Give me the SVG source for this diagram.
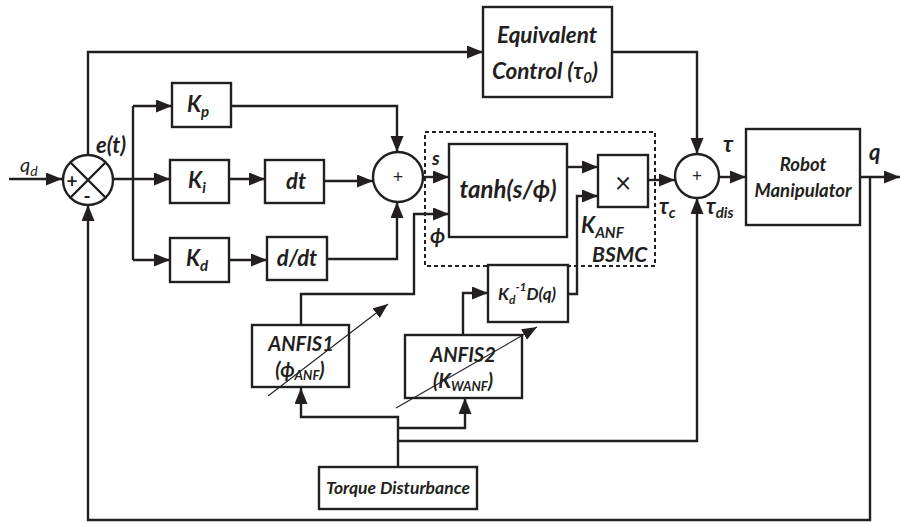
<svg xmlns="http://www.w3.org/2000/svg" width="901" height="524" viewBox="0 0 901 524">
<style>
  .ln{fill:none;stroke:#231f20;stroke-width:2.4}
  .thin{fill:none;stroke:#231f20;stroke-width:1.1}
  .box{fill:#fff;stroke:#231f20;stroke-width:2.4}
  .dash{fill:none;stroke:#231f20;stroke-width:2;stroke-dasharray:4 3}
  text{font-family:"Lato","Liberation Sans","DejaVu Sans",sans-serif;font-weight:bold;font-style:italic;fill:#231f20}
  .c{text-anchor:middle}
  .reg{font-weight:normal;font-style:normal}
</style>
<defs>
  <marker id="ah" markerUnits="userSpaceOnUse" markerWidth="17" markerHeight="14" refX="16" refY="6.5" orient="auto">
    <path d="M0,0 L16,6.5 L0,13 z" fill="#231f20"/>
  </marker>
  <marker id="ahs" markerUnits="userSpaceOnUse" markerWidth="16" markerHeight="14" refX="15" refY="6" orient="auto">
    <path d="M0,0 L15,6 L0,12 z" fill="#231f20"/>
  </marker>
</defs>
<rect width="901" height="524" fill="#fff"/>

<g id="connectors">
  <path class="ln" d="M9,179 H62" marker-end="url(#ah)"/>
  <path class="ln" d="M88,155 V52 H483" marker-end="url(#ah)"/>
  <path class="ln" d="M113,179 H170" marker-end="url(#ah)"/>
  <path class="ln" d="M133,106 V260"/>
  <path class="ln" d="M133,106 H172" marker-end="url(#ah)"/>
  <path class="ln" d="M133,260 H170" marker-end="url(#ah)"/>
  <path class="ln" d="M229,179 H265" marker-end="url(#ah)"/>
  <path class="ln" d="M229,260 H267" marker-end="url(#ah)"/>
  <path class="ln" d="M231,106 H397 V152" marker-end="url(#ah)"/>
  <path class="ln" d="M324,181 H373" marker-end="url(#ah)"/>
  <path class="ln" d="M327,259 H397 V202" marker-end="url(#ah)"/>
  <path class="ln" d="M423,177 H449" marker-end="url(#ah)"/>
  <path class="ln" d="M301,325 V294 H414 V214 H449" marker-end="url(#ah)"/>
  <path class="ln" d="M567,167 H598" marker-end="url(#ah)"/>
  <path class="ln" d="M463,335 V293 H488" marker-end="url(#ah)"/>
  <path class="ln" d="M568,294 H577 V196 H598" marker-end="url(#ah)"/>
  <path class="ln" d="M648,180 H675" marker-end="url(#ah)"/>
  <path class="ln" d="M612,52 H697 V154" marker-end="url(#ah)"/>
  <path class="ln" d="M719,177 H746" marker-end="url(#ah)"/>
  <path class="ln" d="M860,177 H900" marker-end="url(#ah)"/>
  <path class="ln" d="M870,177 V520 H88 V205" marker-end="url(#ah)"/>
  <path class="ln" d="M398,467 V417 H301 V388" marker-end="url(#ah)"/>
  <path class="ln" d="M398,428 H465 V398" marker-end="url(#ah)"/>
  <path class="ln" d="M398,441 H697 V198" marker-end="url(#ah)"/>
</g>

<g id="sum1">
  <circle class="box" cx="88" cy="180" r="25"/>
  <path class="ln" d="M70,162 L106,198 M106,162 L70,198"/>
  <text x="72" y="188" class="c" font-size="19" style="font-style:normal">+</text>
  <text x="87" y="203" class="c" font-size="19" style="font-style:normal">-</text>
</g>
<g id="sum2">
  <circle class="box" cx="398" cy="177" r="25"/>
  <text x="398" y="183" class="c reg" font-size="18">+</text>
</g>
<g id="sum3">
  <circle class="box" cx="697" cy="176" r="22"/>
  <text x="697" y="182" class="c reg" font-size="17">+</text>
</g>

<g id="bsmc">
  <rect class="dash" x="425" y="132" width="230" height="134"/>
  <text x="592" y="262" font-size="21">BSMC</text>
</g>

<g id="eqctrl">
  <rect class="box" x="483" y="7" width="129" height="90"/>
  <text x="547" y="43" class="c" font-size="22.5">Equivalent</text>
  <text x="545" y="79" class="c" font-size="22.5">Control (τ<tspan font-size="15" dy="4">0</tspan><tspan dy="-4">)</tspan></text>
</g>
<g id="kp">
  <rect class="box" x="172" y="83" width="59" height="44"/>
  <text x="198" y="112" class="c" font-size="22">K<tspan font-size="15" dy="5">p</tspan></text>
</g>
<g id="ki">
  <rect class="box" x="170" y="160" width="59" height="43"/>
  <text x="197" y="188" class="c" font-size="22">K<tspan font-size="15" dy="5">i</tspan></text>
</g>
<g id="kd">
  <rect class="box" x="170" y="238" width="59" height="44"/>
  <text x="197" y="266" class="c" font-size="22">K<tspan font-size="15" dy="5">d</tspan></text>
</g>
<g id="dt">
  <rect class="box" x="265" y="160" width="59" height="43"/>
  <text x="296" y="189" class="c" font-size="22">dt</text>
</g>
<g id="ddt">
  <rect class="box" x="267" y="237" width="60" height="43"/>
  <text x="297" y="266" class="c" font-size="22">d/dt</text>
</g>
<g id="tanh">
  <rect class="box" x="449" y="144" width="118" height="93"/>
  <text x="508" y="198" class="c" font-size="24">tanh(s/ϕ)</text>
</g>
<g id="mult">
  <rect class="box" x="598" y="155" width="50" height="52"/>
  <text x="623" y="193" class="c reg" font-size="28">×</text>
</g>
<g id="robot">
  <rect class="box" x="746" y="129" width="114" height="96"/>
  <text x="803" y="171" class="c" font-size="18.5">Robot</text>
  <text x="803" y="197" class="c" font-size="18.5">Manipulator</text>
</g>
<g id="kdinv">
  <rect class="box" x="488" y="265" width="80" height="57"/>
  <text x="498" y="300" font-size="17">K<tspan font-size="12" dy="4">d</tspan><tspan font-size="12" dy="-13">-1</tspan><tspan dy="9" font-size="17">D(q)</tspan></text>
</g>
<g id="anfis1">
  <rect class="box" x="252" y="325" width="97" height="62"/>
  <text x="301" y="351" class="c" font-size="20">ANFIS1</text>
  <text x="300" y="377" class="c" font-size="20">(ϕ<tspan font-size="13" dy="3">ANF</tspan><tspan dy="-3">)</tspan></text>
</g>
<g id="anfis2">
  <rect class="box" x="405" y="335" width="117" height="63"/>
  <text x="463" y="362" class="c" font-size="20">ANFIS2</text>
  <text x="463" y="388" class="c" font-size="20">(K<tspan font-size="13" dy="3">WANF</tspan><tspan dy="-3">)</tspan></text>
</g>
<g id="torque">
  <rect class="box" x="319" y="467" width="158" height="42"/>
  <text x="398" y="494" class="c" font-size="17.5">Torque Disturbance</text>
</g>

<g id="adaptive-arrows">
  <path class="thin" d="M268,396 L388,304" marker-end="url(#ahs)"/>
  <path class="thin" d="M396,408 L537,327" marker-end="url(#ahs)"/>
</g>

<g id="labels">
  <text x="20" y="172" font-size="20" style="font-weight:normal">q<tspan font-size="14" dy="4">d</tspan></text>
  <text x="96" y="153" font-size="22">e(t)</text>
  <text x="432" y="165" font-size="19">s</text>
  <text x="430" y="243" font-size="21">ϕ</text>
  <text x="581" y="233" font-size="22">K<tspan font-size="15" dy="5">ANF</tspan></text>
  <text x="659" y="214" font-size="22">τ<tspan font-size="15" dy="4">c</tspan></text>
  <text x="706" y="214" font-size="22">τ<tspan font-size="15" dy="4">dis</tspan></text>
  <text x="723" y="152" font-size="23">τ</text>
  <text x="869" y="160" font-size="22">q</text>
</g>
</svg>
